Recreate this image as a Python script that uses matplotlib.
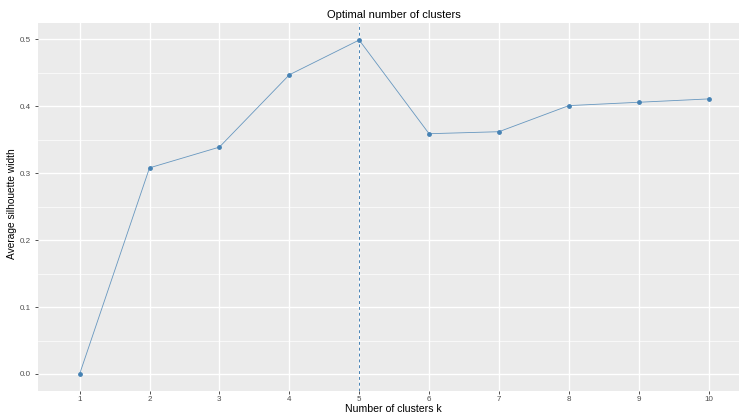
import matplotlib.pyplot as plt
import numpy as np

k_values = [1, 2, 3, 4, 5, 6, 7, 8, 9, 10]
silhouette = [0.0, 0.308, 0.339, 0.447, 0.499, 0.359, 0.362, 0.401, 0.406, 0.411]
best_k = 5
y_ticks = [0.0, 0.1, 0.2, 0.3, 0.4, 0.5]


def main():
    plt.rcParams['font.family'] = ['Liberation Sans', 'DejaVu Sans']
    fig = plt.figure(figsize=(7.39, 4.16), dpi=100)
    W, H = 739, 416
    # panel runs a bit past the right edge, as in the reference crop
    left, right, top, bottom = 37.7, 750.5, 23.3, 390.7
    ax = fig.add_axes([left / W, 1 - bottom / H, (right - left) / W, (bottom - top) / H])

    ax.set_facecolor('#EBEBEB')
    for s in ax.spines.values():
        s.set_visible(False)

    ax.set_xlim(0.4, 10.6)
    ax.set_ylim(-0.025, 0.524)
    ax.set_xticks(k_values)
    ax.set_yticks(y_ticks)
    ax.set_yticks([0.05, 0.15, 0.25, 0.35, 0.45], minor=True)
    ax.set_yticklabels(['%.1f' % v for v in y_ticks])
    ax.grid(which='major', color='white', linewidth=1.0)
    ax.grid(which='minor', axis='y', color='white', linewidth=0.5)
    ax.set_axisbelow(True)
    ax.tick_params(which='major', length=2.5, width=0.6, color='#333333',
                   labelcolor='#4D4D4D', labelsize=5.8)
    ax.tick_params(axis='x', pad=1.5)
    ax.tick_params(axis='y', pad=2.5)
    ax.tick_params(which='minor', length=0)

    ax.axvline(best_k, color='#4682B4', linestyle=(0, (3, 3)), linewidth=0.7)
    ax.plot(k_values, silhouette, color='#4682B4', linewidth=0.6, alpha=0.8)
    ax.scatter(k_values, silhouette, color='#4682B4', s=6, zorder=3)

    ax.set_title('Optimal number of clusters', fontsize=8, pad=4)
    fig.text(393 / W, 1 - 409 / H, 'Number of clusters k', fontsize=7.6,
             ha='center', va='center')
    fig.text(12.5 / W, 1 - 204 / H, 'Average silhouette width', fontsize=7.3,
             ha='center', va='center', rotation=90)

    fig.savefig('out.png', dpi=100)


if __name__ == '__main__':
    main()
